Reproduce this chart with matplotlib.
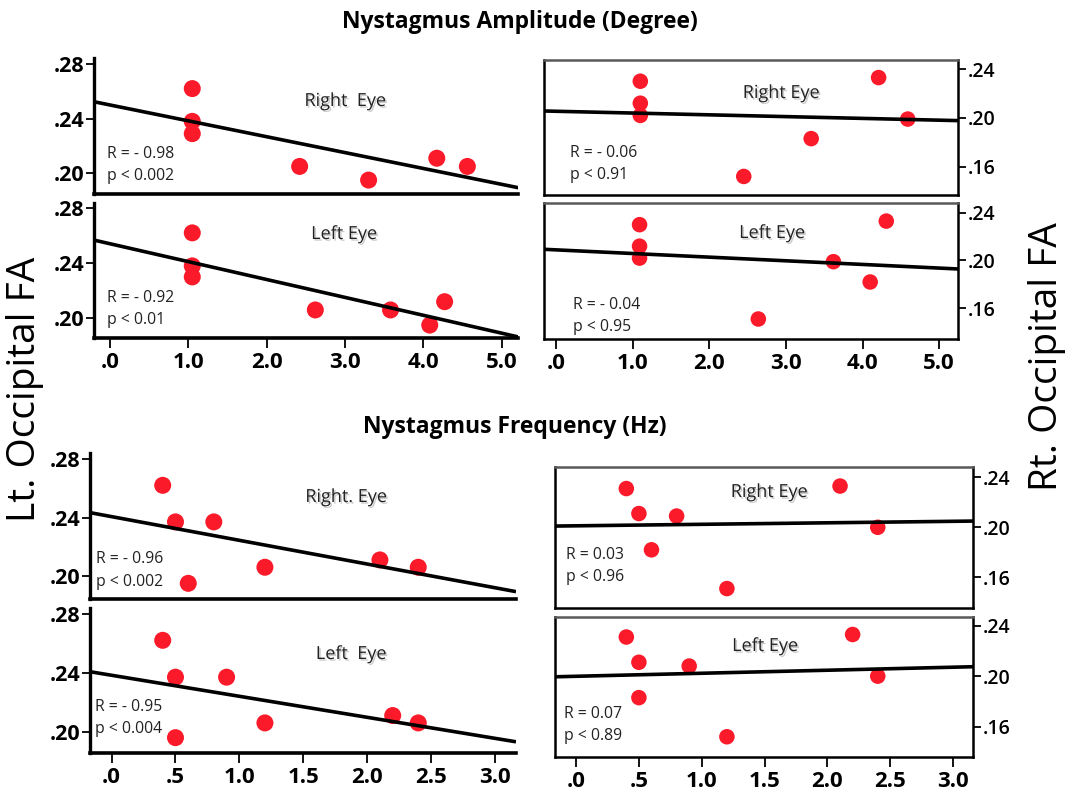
import matplotlib
matplotlib.use("Agg")
import matplotlib.pyplot as plt
import matplotlib.patheffects as pe
import numpy as np

plt.rcParams['font.family'] = ['Open Sans', 'DejaVu Sans']

W, H = 1065, 792

# ---------------- data ----------------
# Amplitude (degree) vs Lt. occipital FA
amp_L_right_x = [1.05, 1.05, 1.05, 2.42, 3.30, 4.17, 4.56]
amp_L_right_y = [0.262, 0.238, 0.229, 0.205, 0.195, 0.211, 0.205]
amp_L_left_x = [1.05, 1.05, 1.05, 2.62, 3.58, 4.08, 4.27]
amp_L_left_y = [0.262, 0.238, 0.230, 0.206, 0.206, 0.195, 0.212]
# Amplitude vs Rt. occipital FA
amp_R_right_x = [1.10, 1.10, 1.10, 2.45, 3.33, 4.21, 4.59]
amp_R_right_y = [0.230, 0.212, 0.202, 0.152, 0.183, 0.233, 0.199]
amp_R_left_x = [1.09, 1.09, 1.09, 2.64, 3.62, 4.10, 4.31]
amp_R_left_y = [0.230, 0.212, 0.202, 0.151, 0.199, 0.182, 0.233]
# Frequency (Hz) vs Lt. occipital FA
freq_L_right_x = [0.40, 0.50, 0.80, 0.60, 1.20, 2.10, 2.40]
freq_L_right_y = [0.262, 0.237, 0.237, 0.195, 0.206, 0.211, 0.206]
freq_L_left_x = [0.40, 0.50, 0.90, 1.20, 0.50, 2.20, 2.40]
freq_L_left_y = [0.262, 0.237, 0.237, 0.206, 0.196, 0.211, 0.206]
# Frequency vs Rt. occipital FA
freq_R_right_x = [0.40, 0.50, 0.80, 0.60, 1.20, 2.10, 2.40]
freq_R_right_y = [0.231, 0.211, 0.209, 0.182, 0.151, 0.233, 0.200]
freq_R_left_x = [0.40, 0.50, 0.90, 0.50, 1.20, 2.20, 2.40]
freq_R_left_y = [0.231, 0.211, 0.208, 0.183, 0.152, 0.233, 0.200]

# regression lines (intercept, slope)
fit_intercepts = [0.2500, 0.2541, 0.2054, 0.2089, 0.2406, 0.2383, 0.2012, 0.1999]
fit_slopes = [-0.01163, -0.0130, -0.00146, -0.00305, -0.0162, -0.01425, 0.0012, 0.0024]

r_labels = ["R = - 0.98", "R = - 0.92", "R = - 0.06", "R = - 0.04",
            "R = - 0.96", "R = - 0.95", "R = 0.03", "R = 0.07"]
p_labels = ["p < 0.002", "p < 0.01", "p < 0.91", "p < 0.95",
            "p < 0.002", "p < 0.004", "p < 0.96", "p < 0.89"]
eye_labels = ["Right  Eye", "Left Eye", "Right Eye", "Left Eye",
              "Right. Eye", "Left  Eye", "Right Eye", "Left Eye"]

left_yticks = [0.20, 0.24, 0.28]
left_yticklabels = [".20", ".24", ".28"]
right_yticks = [0.16, 0.20, 0.24]
right_yticklabels = [".16", ".20", ".24"]
amp_xticks = [0, 1, 2, 3, 4, 5]
amp_xticklabels = [".0", "1.0", "2.0", "3.0", "4.0", "5.0"]
freq_xticks = [0, 0.5, 1.0, 1.5, 2.0, 2.5, 3.0]
freq_xticklabels = [".0", ".5", "1.0", "1.5", "2.0", "2.5", "3.0"]

xs = [amp_L_right_x, amp_L_left_x, amp_R_right_x, amp_R_left_x,
      freq_L_right_x, freq_L_left_x, freq_R_right_x, freq_R_left_x]
ys = [amp_L_right_y, amp_L_left_y, amp_R_right_y, amp_R_left_y,
      freq_L_right_y, freq_L_left_y, freq_R_right_y, freq_R_left_y]

# ---------------- layout (pixels) ----------------
panels = [
    ((94.3, 58, 518.3, 194), (-0.2, 5.21), (0.1848, 0.2844), 'L', False, True),
    ((94.3, 203, 518.3, 338.3), (-0.2, 5.21), (0.1854, 0.2837), 'L', True, True),
    ((544, 60, 958.3, 195), (-0.157, 5.25), (0.1368, 0.2474), 'R', False, True),
    ((544, 203.3, 958.3, 339.3), (-0.157, 5.25), (0.134, 0.2479), 'R', True, True),
    ((90, 452.7, 516, 598.7), (-0.169, 3.165), (0.1845, 0.2843), 'L', False, False),
    ((90, 608.3, 516, 753.3), (-0.169, 3.165), (0.1854, 0.2837), 'L', True, False),
    ((555.3, 467.3, 973.3, 607.7), (-0.165, 3.16), (0.1357, 0.248), 'R', False, False),
    ((555.3, 616.7, 973.3, 756.7), (-0.165, 3.16), (0.1362, 0.2471), 'R', True, False),
]
eye_pos = [(345, 101), (344, 234), (781, 93), (772, 233),
           (346, 497), (351, 654), (769, 492), (765, 646)]
r_pos = [(107, 154), (107, 298), (570, 153), (573, 305),
         (96, 559), (95, 707), (566, 555), (564, 714)]
p_pos = [(107, 176), (107, 320), (570, 175), (573, 327),
         (96, 582), (95, 729), (566, 577), (564, 736)]

fig = plt.figure(figsize=(W / 100, H / 100), dpi=100)

red = '#fb1a2a'
shadow = [pe.SimplePatchShadow(offset=(1.2, -1.2), shadow_rgbFace='0.55', alpha=0.45), pe.Normal()]

for i, (box, xl, yl, side, showx, is_amp) in enumerate(panels):
    x0, y0, x1, y1 = box
    ax = fig.add_axes([x0 / W, 1 - y1 / H, (x1 - x0) / W, (y1 - y0) / H])
    ax.set_xlim(*xl)
    ax.set_ylim(*yl)
    ax.scatter(xs[i], ys[i], s=150 if side == 'L' else 125, color=red,
               edgecolors='none', zorder=3, clip_on=False)
    xx = np.array(xl)
    ax.plot(xx, fit_intercepts[i] + fit_slopes[i] * xx, color='black', lw=2.6,
            zorder=4, solid_capstyle='butt')
    if side == 'L':
        ax.spines['top'].set_visible(False)
        ax.spines['right'].set_visible(False)
        ax.spines['left'].set_linewidth(2.4)
        ax.spines['bottom'].set_linewidth(2.6)
        ax.set_yticks(left_yticks)
        ax.set_yticklabels(left_yticklabels)
        ax.tick_params(axis='y', direction='out', length=6, width=1.3,
                       labelsize=15.5, pad=1)
        for lab in ax.get_yticklabels():
            lab.set_fontweight('bold')
    else:
        for s in ax.spines.values():
            s.set_linewidth(1.8)
        ax.spines['top'].set_color('0.35')
        ax.yaxis.tick_right()
        ax.set_yticks(right_yticks)
        ax.set_yticklabels(right_yticklabels)
        ax.tick_params(axis='y', direction='out', length=6, width=1.3,
                       labelsize=14, pad=1)
        for lab in ax.get_yticklabels():
            lab.set_fontweight('semibold')
    if showx:
        if is_amp:
            ax.set_xticks(amp_xticks)
            ax.set_xticklabels(amp_xticklabels)
        else:
            ax.set_xticks(freq_xticks)
            ax.set_xticklabels(freq_xticklabels)
        ax.tick_params(axis='x', direction='out', length=7, width=1.3,
                       labelsize=16, pad=3)
        for lab in ax.get_xticklabels():
            lab.set_fontweight('bold')
    else:
        ax.set_xticks([])
    ax.set_facecolor('white')

    ex, ey = eye_pos[i]
    fig.text(ex / W, 1 - ey / H, eye_labels[i], ha='center', va='center',
             fontsize=13, color='#222222', path_effects=shadow)
    rx, ry = r_pos[i]
    fig.text(rx / W, 1 - ry / H, r_labels[i], ha='left', va='center',
             fontsize=11.3, color='#222222')
    px, py = p_pos[i]
    fig.text(px / W, 1 - py / H, p_labels[i], ha='left', va='center',
             fontsize=11.3, color='#222222')

fig.text(520 / W, 1 - 22 / H, "Nystagmus Amplitude (Degree)", ha='center',
         va='center', fontsize=16.5, fontweight='bold')
fig.text(515 / W, 1 - 427 / H, "Nystagmus Frequency (Hz)", ha='center',
         va='center', fontsize=16.5, fontweight='bold')
fig.text(25 / W, 1 - 389 / H, "Lt. Occipital FA", ha='center', va='center',
         rotation=90, fontsize=28)
fig.text(1047 / W, 1 - 357 / H, "Rt. Occipital FA", ha='center', va='center',
         rotation=90, fontsize=28)

fig.savefig("out.png", dpi=100, facecolor='white')
